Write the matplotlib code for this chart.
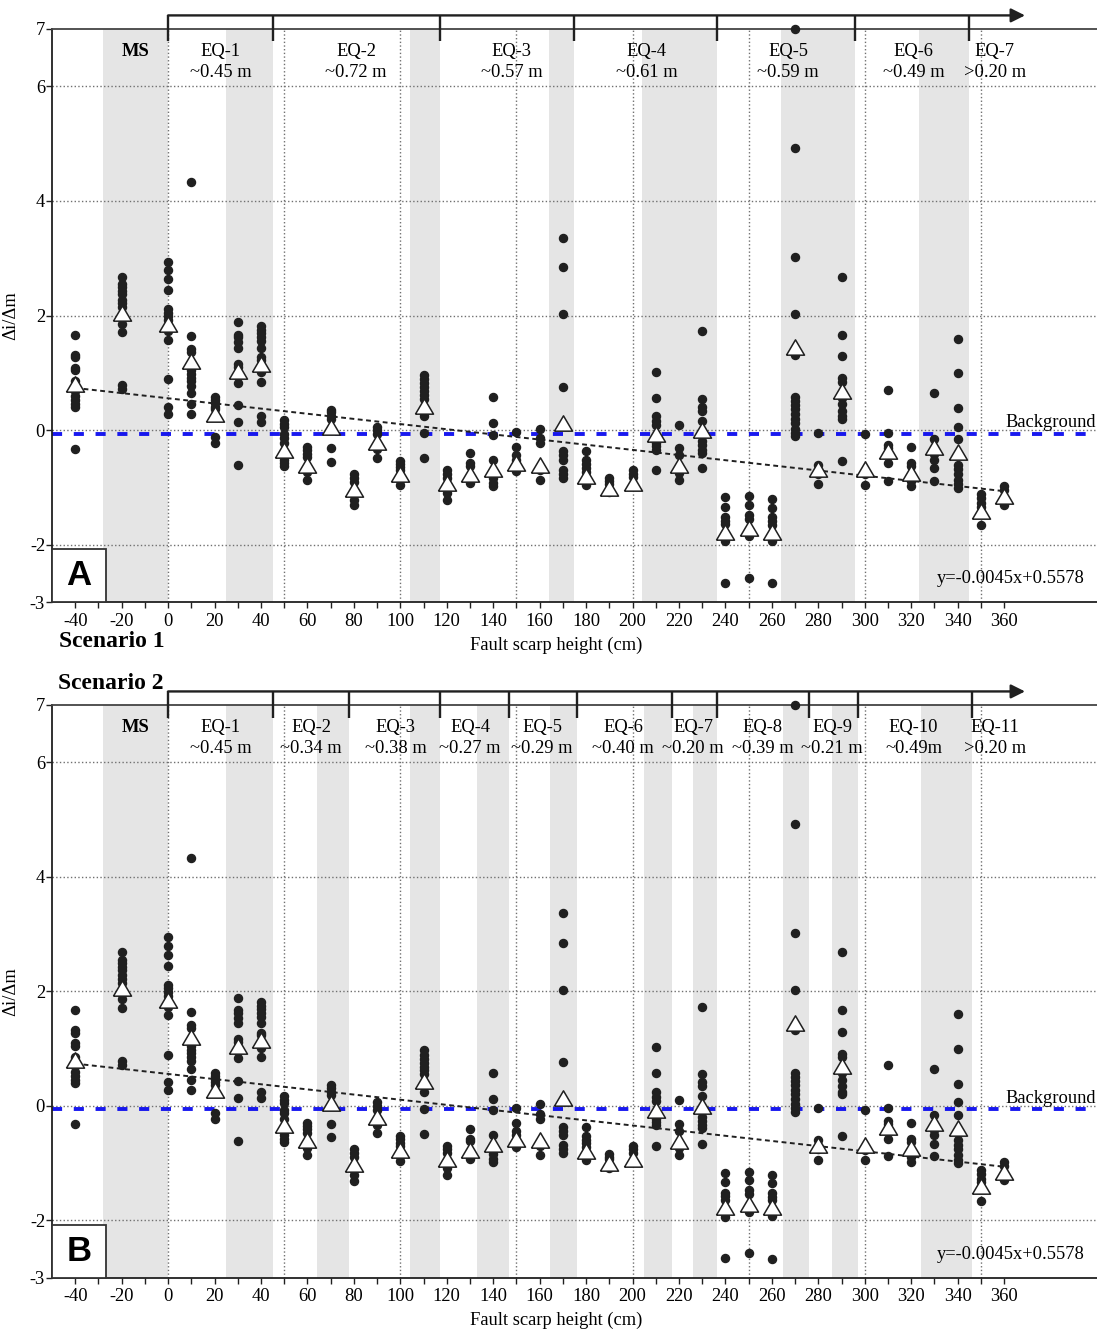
import matplotlib
matplotlib.use('Agg')
import matplotlib.pyplot as plt
from matplotlib.patches import Rectangle
from matplotlib.ticker import FixedLocator

plt.rcParams['font.family'] = ['Liberation Serif', 'DejaVu Serif']
plt.rcParams['axes.unicode_minus'] = False

# fault scarp height of each sample column (cm)
heights = [-40, -20, 0, 10, 20, 30, 40, 50, 60, 70, 80, 90, 100, 110, 120, 130,
           140, 150, 160, 170, 180, 190, 200, 210, 220, 230, 240, 250, 260, 270,
           280, 290, 300, 310, 320, 330, 340, 350, 360]

# individual di/dm values per column
dots = [
    [1.67, 1.32, 1.28, 1.09, 1.05, 0.86, 0.69, 0.60, 0.52, 0.45, 0.40, -0.32],
    [2.68, 2.55, 2.49, 2.43, 2.37, 2.28, 2.22, 2.15, 1.95, 1.86, 1.71, 0.79, 0.72],
    [2.94, 2.79, 2.64, 2.45, 2.11, 2.05, 1.99, 1.92, 1.73, 1.58, 0.89, 0.41, 0.28],
    [4.33, 1.64, 1.42, 1.36, 1.10, 1.05, 0.98, 0.92, 0.86, 0.78, 0.65, 0.45, 0.28],
    [0.58, 0.53, 0.47, 0.41, 0.37, -0.12, -0.23],
    [1.88, 1.67, 1.63, 1.54, 1.44, 1.16, 1.11, 0.95, 0.83, 0.44, 0.14, -0.61],
    [1.81, 1.75, 1.69, 1.63, 1.55, 1.44, 1.27, 1.23, 1.01, 0.85, 0.24, 0.14],
    [0.18, 0.11, 0.05, -0.07, -0.13, -0.22, -0.42, -0.51, -0.57, -0.63],
    [-0.29, -0.35, -0.41, -0.47, -0.73, -0.86],
    [0.36, 0.31, 0.25, 0.19, -0.31, -0.55],
    [-0.76, -0.83, -0.90, -1.12, -1.21, -1.31],
    [0.06, 0.0, -0.07, -0.33, -0.48],
    [-0.53, -0.58, -0.64, -0.70, -0.87, -0.96],
    [0.97, 0.89, 0.82, 0.75, 0.68, 0.62, 0.55, 0.24, -0.05, -0.49],
    [-0.70, -0.76, -0.83, -0.97, -1.09, -1.21],
    [-0.40, -0.57, -0.62, -0.92],
    [0.58, 0.12, -0.08, -0.51, -0.77, -0.84, -0.92, -0.98],
    [-0.03, -0.29, -0.43, -0.51, -0.71],
    [0.03, -0.14, -0.22, -0.65, -0.70, -0.86],
    [3.36, 2.84, 2.03, 0.76, -0.36, -0.43, -0.51, -0.69, -0.76, -0.83],
    [-0.37, -0.52, -0.59, -0.65, -0.72, -0.95],
    [-0.84, -0.89, -0.93, -1.08],
    [-0.70, -0.76, -0.82],
    [1.02, 0.57, 0.25, 0.16, 0.09, -0.16, -0.22, -0.28, -0.34, -0.70],
    [0.10, -0.31, -0.43, -0.74, -0.86],
    [1.73, 0.55, 0.41, 0.34, 0.17, -0.19, -0.26, -0.34, -0.39, -0.66],
    [-1.17, -1.33, -1.52, -1.58, -1.64, -1.94, -2.66],
    [-1.15, -1.30, -1.47, -1.54, -1.85, -2.57],
    [-1.20, -1.35, -1.52, -1.59, -1.65, -1.93, -2.67],
    [6.99, 4.92, 3.02, 2.03, 1.32, 0.58, 0.51, 0.44, 0.37, 0.28, 0.20, 0.12, 0.03, -0.04, -0.10],
    [-0.04, -0.60, -0.76, -0.94],
    [2.68, 1.67, 1.29, 0.91, 0.85, 0.57, 0.45, 0.34, 0.25, 0.20, -0.53],
    [-0.07, -0.77, -0.95],
    [0.71, -0.04, -0.26, -0.31, -0.42, -0.57, -0.88],
    [-0.29, -0.57, -0.63, -0.89, -0.98],
    [0.65, -0.16, -0.36, -0.42, -0.51, -0.66, -0.88],
    [1.60, 1.00, 0.38, 0.06, -0.16, -0.60, -0.68, -0.76, -0.86, -0.94, -1.00],
    [-1.12, -1.19, -1.27, -1.33, -1.66],
    [-0.98, -1.05, -1.30],
]

# column means (open triangles)
means = [0.80, 2.05, 1.85, 1.20, 0.28, 1.04, 1.15, -0.34, -0.60, 0.05, -1.02, -0.20,
         -0.77, 0.43, -0.92, -0.77, -0.67, -0.57, -0.60, 0.13, -0.79, -1.00, -0.92,
         -0.07, -0.61, 0.00, -1.77, -1.71, -1.77, 1.45, -0.68, 0.69, -0.68, -0.36,
         -0.74, -0.30, -0.38, -1.40, -1.15]

background = -0.06
slope, intercept = -0.0045, 0.5578

# scenario 1
bounds_1 = [0, 45, 117, 175, 236.5, 296, 345]
bands_1 = [(-28, 0), (25, 45), (104, 117), (164, 175), (204, 236.5), (264, 296), (323.5, 345)]
names_1 = ['MS', 'EQ-1', 'EQ-2', 'EQ-3', 'EQ-4', 'EQ-5', 'EQ-6', 'EQ-7']
slips_1 = ['', '~0.45 m', '~0.72 m', '~0.57 m', '~0.61 m', '~0.59 m', '~0.49 m', '>0.20 m']
name_x_1 = [-14, 22.5, 81, 148, 206, 267, 321, 356]

# scenario 2
bounds_2 = [0, 45, 78, 117, 147, 176, 217, 236.5, 276, 297, 346]
bands_2 = [(-28, 0), (25, 45), (64, 78), (104, 117), (133, 147), (164.5, 176),
           (205, 217), (226, 236.5), (265, 276), (286, 297), (324, 346)]
names_2 = ['MS', 'EQ-1', 'EQ-2', 'EQ-3', 'EQ-4', 'EQ-5', 'EQ-6', 'EQ-7', 'EQ-8',
           'EQ-9', 'EQ-10', 'EQ-11']
slips_2 = ['', '~0.45 m', '~0.34 m', '~0.38 m', '~0.27 m', '~0.29 m', '~0.40 m',
           '~0.20 m', '~0.39 m', '~0.21 m', '~0.49m', '>0.20 m']
name_x_2 = [-14, 22.5, 61.5, 98, 130, 161, 196, 226, 256, 286, 321, 356]

FS = 13.3
INK = '#202020'
tri = [(-1, -0.85), (1, -0.85), (0, 0.85), (-1, -0.85)]


def draw_panel(ax, bounds, bands, names, slips, name_x, tag):
    ax.set_xlim(-50, 400)
    ax.set_ylim(-3, 7)

    for a, b in bands:
        ax.axvspan(a, b, color='#e5e5e5', lw=0, zorder=0)
    for gx in range(0, 351, 50):
        ax.axvline(gx, color='#707070', ls=':', lw=1.0, zorder=1)
    for gy in [-2, 0, 2, 4, 6]:
        ax.axhline(gy, color='#707070', ls=':', lw=1.0, zorder=1)

    bl = ax.axhline(background, color='#0000ee', lw=2.8, alpha=0.9, zorder=2)
    bl.set_dashes((2.6, 3.0))
    ax.text(380, 0.13, 'Background', ha='center', va='center', fontsize=FS, zorder=6)

    reg_x = [heights[0], heights[-1]]
    reg_y = [slope * v + intercept for v in reg_x]
    ax.plot(reg_x, reg_y, color=INK, lw=1.4, ls=(0, (2.5, 1.8)), zorder=3)
    ax.text(363, -2.59, 'y=-0.0045x+0.5578', ha='center', va='center', fontsize=FS)

    for hx, col in zip(heights, dots):
        ax.plot([hx] * len(col), col, 'o', color=INK, ms=5.8, mec=INK, zorder=4,
                clip_on=False)
    ax.plot(heights, means, ls='none', marker=tri, ms=13, mfc='white', mec=INK,
            mew=1.1, zorder=5)

    # event bracket with arrow above the panel
    ax.annotate('', xy=(369, 7.235), xytext=(0, 7.235), annotation_clip=False,
                arrowprops=dict(arrowstyle='-|>', color=INK, lw=1.7,
                                mutation_scale=21, shrinkA=0, shrinkB=0))
    ax.vlines(bounds, 6.78, 7.235, colors=INK, lw=1.7, clip_on=False, zorder=6)

    for nx, nm, sl in zip(name_x, names, slips):
        ax.text(nx, 6.6, nm, ha='center', va='center', fontsize=FS, zorder=6,
                fontweight='bold' if nm == 'MS' else 'normal')
        if sl:
            ax.text(nx, 6.24, sl, ha='center', va='center', fontsize=FS, zorder=6)

    ax.spines['right'].set_visible(False)
    ax.spines['left'].set_color(INK)
    ax.spines['bottom'].set_color(INK)
    ax.spines['top'].set_color('#444444')
    for s in ['left', 'bottom', 'top']:
        ax.spines[s].set_linewidth(1.3)

    ax.set_yticks([-3, -2, 0, 2, 4, 6, 7])
    ax.set_xticks(list(range(-40, 361, 20)))
    ax.xaxis.set_minor_locator(FixedLocator(list(range(-30, 351, 20))))
    ax.tick_params(axis='x', which='both', direction='out', length=4, width=1,
                   color=INK, labelsize=FS, pad=3.5)
    ax.tick_params(axis='y', direction='out', length=4, width=1, color=INK,
                   labelsize=FS, pad=1)

    ax.set_ylabel('Δi/Δm', fontsize=FS)
    ax.yaxis.set_label_coords(-0.031, 0.5)
    ax.text(167, -0.075, 'Fault scarp height (cm)', transform=ax.get_xaxis_transform(),
            ha='center', va='center', fontsize=FS)

    box = Rectangle((0, 0), 0.0514, 0.0925, transform=ax.transAxes, facecolor='white',
                    edgecolor='#333333', lw=1.3, zorder=7, clip_on=False)
    ax.add_patch(box)
    ax.text(0.0257, 0.046, tag, transform=ax.transAxes, ha='center', va='center',
            fontsize=25, fontweight='bold', family='Liberation Sans', zorder=8)


fig = plt.figure(figsize=(10.97, 13.31), dpi=100)
ax1 = fig.add_axes([0.0474, 0.5475, 0.9526, 0.4308])
ax2 = fig.add_axes([0.0474, 0.0400, 0.9526, 0.4304])

draw_panel(ax1, bounds_1, bands_1, names_1, slips_1, name_x_1, 'A')
draw_panel(ax2, bounds_2, bands_2, names_2, slips_2, name_x_2, 'B')

fig.text(59 / 1097, 1 - 641.5 / 1331, 'Scenario 1', ha='left', va='center',
         fontsize=17, fontweight='bold')
fig.text(58.5 / 1097, 1 - 683.5 / 1331, 'Scenario 2', ha='left', va='center',
         fontsize=17, fontweight='bold')

fig.savefig('out.png', dpi=100)
